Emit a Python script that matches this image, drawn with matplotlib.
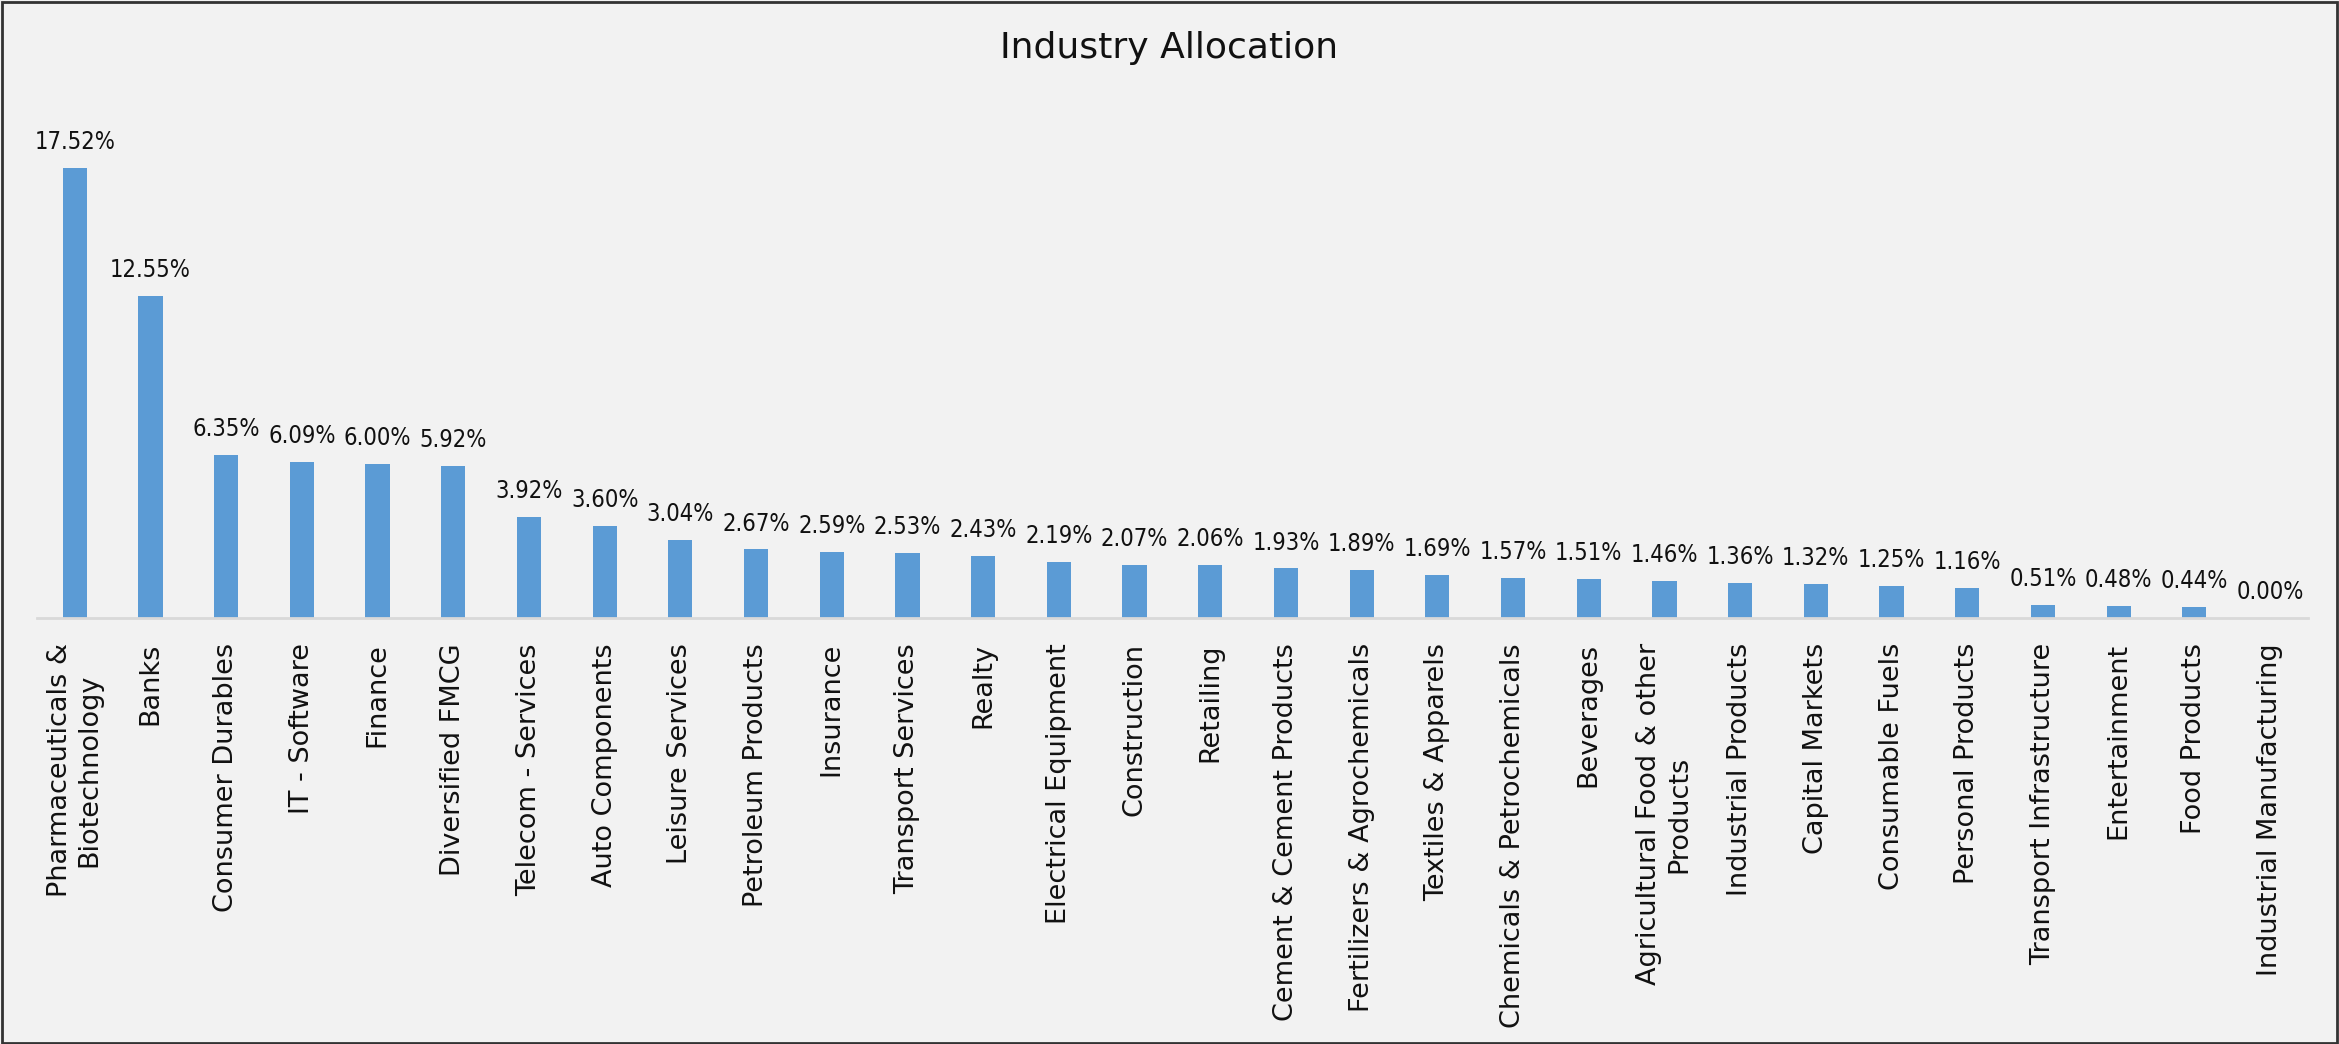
import matplotlib
matplotlib.use("Agg")
import matplotlib.pyplot as plt
from matplotlib.patches import Rectangle

industries = ["Pharmaceuticals &\nBiotechnology", "Banks", "Consumer Durables", "IT - Software",
              "Finance", "Diversified FMCG", "Telecom - Services", "Auto Components",
              "Leisure Services", "Petroleum Products", "Insurance", "Transport Services",
              "Realty", "Electrical Equipment", "Construction", "Retailing",
              "Cement & Cement Products", "Fertilizers & Agrochemicals", "Textiles & Apparels",
              "Chemicals & Petrochemicals", "Beverages", "Agricultural Food & other\nProducts",
              "Industrial Products", "Capital Markets", "Consumable Fuels", "Personal Products",
              "Transport Infrastructure", "Entertainment", "Food Products", "Industrial Manufacturing"]
allocation = [17.52, 12.55, 6.35, 6.09, 6.00, 5.92, 3.92, 3.60, 3.04, 2.67, 2.59, 2.53, 2.43,
              2.19, 2.07, 2.06, 1.93, 1.89, 1.69, 1.57, 1.51, 1.46, 1.36, 1.32, 1.25, 1.16,
              0.51, 0.48, 0.44, 0.00]

bg = "#f2f2f2"
fig = plt.figure(figsize=(23.39, 10.44), dpi=100, facecolor=bg)
ax = fig.add_axes([0.0158, 0.408, 0.9709, 0.492])
ax.set_facecolor(bg)

x = list(range(len(industries)))
bars = ax.bar(x, allocation, width=0.32, color="#5b9bd5", zorder=2)

for xi, v in zip(x, allocation):
    ax.annotate(f"{v:.2f}%", (xi, v), xytext=(0, 10), textcoords="offset points",
                ha="center", va="bottom", fontsize=17, fontstretch="condensed",
                family=["DejaVu Sans"], color="#111111")

ax.set_xlim(-0.5, len(industries) - 0.5)
ax.set_ylim(0, 20)
ax.set_xticks(x)
ax.set_xticklabels(industries, rotation=90, fontsize=19.5, color="#111111",
                   multialignment="center")
ax.tick_params(axis="x", length=0, pad=18)
ax.set_yticks([])
for s in ["top", "right", "left"]:
    ax.spines[s].set_visible(False)
ax.spines["bottom"].set_color("#d9d9d9")
ax.spines["bottom"].set_linewidth(2)

fig.text(0.5, 0.954, "Industry Allocation", ha="center", va="center", fontsize=26, color="#111111")

fig.patches.append(Rectangle((0.001, 0.001), 0.998, 0.997, transform=fig.transFigure,
                             fill=False, edgecolor="#333333", linewidth=2))

fig.savefig("out.png", dpi=100, facecolor=bg)
